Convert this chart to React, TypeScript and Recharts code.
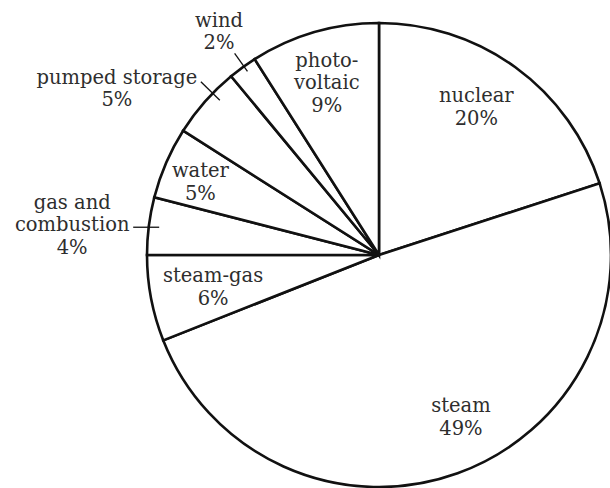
import { Cell, Pie, PieChart } from "recharts"

// shares of installed capacity, clockwise from 12 o'clock
const categories = [
  "nuclear",
  "steam",
  "steam-gas",
  "gas and combustion",
  "water",
  "pumped storage",
  "wind",
  "photovoltaic",
]
const shares = [20, 49, 6, 4, 5, 5, 2, 9]
const labelLines = [
  ["nuclear"],
  ["steam"],
  ["steam-gas"],
  ["gas and", "combustion"],
  ["water"],
  ["pumped storage"],
  ["wind"],
  ["photo-", "voltaic"],
]

const data = categories.map((name, i) => ({ name, value: shares[i] }))

const WIDTH = 610
const HEIGHT = 488
const CX = 379
const CY = 255
const R = 232
const LINE_H = 22.7
const FONT = "'DejaVu Serif', serif"
const TEXT_COLOR = "#2e2e2e"

// label placement: "in" = centred inside the slice, "out" = leader line + text outside
type InLayout = { kind: "in"; r: number; dx: number; dy: number }
type OutLayout = {
  kind: "out"
  r1: number
  r2?: number
  horiz?: number
  da: number
  tx: number
  ty: number
}
const layout: (InLayout | OutLayout)[] = [
  { kind: "in", r: 0.765, dx: -7, dy: -5 },
  { kind: "in", r: 0.775, dx: 21, dy: -8 },
  { kind: "in", r: 0.728, dx: 0, dy: 0 },
  { kind: "out", r1: 0.955, horiz: 26, da: 0, tx: -61, ty: -18.7 },
  { kind: "in", r: 0.834, dx: -1, dy: 3 },
  { kind: "out", r1: 0.957, r2: 1.071, da: -2.8, tx: -84, ty: 2 },
  { kind: "out", r1: 0.974, r2: 1.069, da: -0.4, tx: -15.6, ty: -26.7 },
  { kind: "in", r: 0.775, dx: -2, dy: 0 },
]

const RAD = Math.PI / 180
const polar = (cx: number, cy: number, r: number, angle: number) => ({
  x: cx + r * Math.cos(-angle * RAD),
  y: cy + r * Math.sin(-angle * RAD),
})

const renderLabel = (props: any) => {
  const { cx, cy, midAngle, outerRadius, index } = props
  const cfg = layout[index]
  const lines = [...labelLines[index], `${shares[index]}%`]
  const textStyle = { fontFamily: FONT, fontSize: 19.5, fill: TEXT_COLOR }

  if (cfg.kind === "in") {
    const p = polar(cx, cy, outerRadius * cfg.r, midAngle)
    const x = p.x + cfg.dx
    const y0 = p.y + cfg.dy + 7 - ((lines.length - 1) * LINE_H) / 2
    return (
      <g key={`label-${index}`}>
        {lines.map((t, i) => (
          <text key={i} x={x} y={y0 + i * LINE_H} textAnchor="middle" style={textStyle}>
            {t}
          </text>
        ))}
      </g>
    )
  }

  const angle = midAngle + cfg.da
  const a = polar(cx, cy, outerRadius * cfg.r1, angle)
  const b =
    cfg.horiz !== undefined
      ? { x: a.x - cfg.horiz, y: a.y }
      : polar(cx, cy, outerRadius * (cfg.r2 ?? 1.07), angle)
  const x = b.x + cfg.tx
  const y0 = b.y + cfg.ty
  return (
    <g key={`label-${index}`}>
      <line x1={a.x} y1={a.y} x2={b.x} y2={b.y} stroke="#111" strokeWidth={1.3} />
      {lines.map((t, i) => (
        <text key={i} x={x} y={y0 + i * LINE_H} textAnchor="middle" style={textStyle}>
          {t}
        </text>
      ))}
    </g>
  )
}

export default function App() {
  return (
    <div
      style={{
        position: "absolute",
        left: 0,
        top: 0,
        width: WIDTH,
        height: HEIGHT,
        background: "#fff",
        overflow: "hidden",
      }}
    >
      <PieChart width={WIDTH} height={HEIGHT} margin={{ top: 0, right: 0, bottom: 0, left: 0 }}>
        <Pie
          data={data}
          dataKey="value"
          nameKey="name"
          cx={CX}
          cy={CY}
          outerRadius={R}
          startAngle={90}
          endAngle={-270}
          stroke="#111"
          strokeWidth={2.6}
          labelLine={false}
          label={renderLabel}
          isAnimationActive={false}
        >
          {data.map((d) => (
            <Cell key={d.name} fill="#fff" />
          ))}
        </Pie>
      </PieChart>
    </div>
  )
}
